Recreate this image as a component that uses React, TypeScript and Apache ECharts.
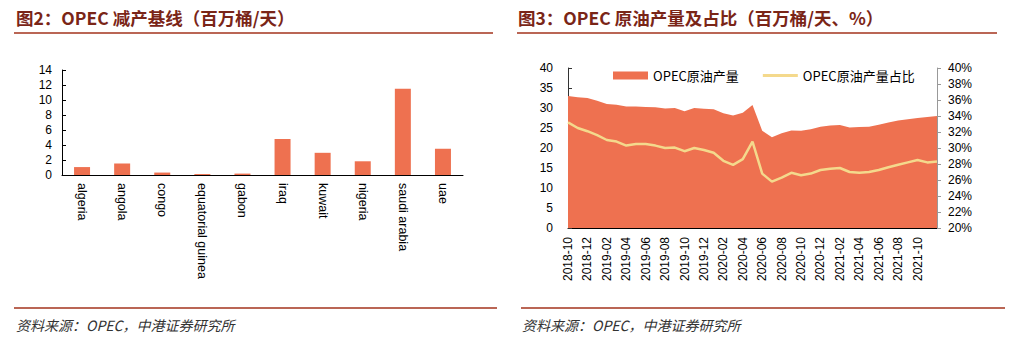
import React, { useEffect, useRef } from "react";
import * as echarts from "echarts";

// ---- Chart 2: OPEC baseline (mb/d)
const countries = [
  "algeria", "angola", "congo", "equatorial guinea", "gabon",
  "iraq", "kuwait", "nigeria", "saudi arabia", "uae",
];
const baseline = [1.057, 1.528, 0.325, 0.127, 0.187, 4.803, 2.959, 1.829, 11.5, 3.5];
const leftYTicks = [0, 14, 2]; // min, max, interval

// ---- Chart 3: OPEC crude production & share
const months = [
  "2018-10", "2018-11", "2018-12", "2019-01", "2019-02", "2019-03", "2019-04", "2019-05",
  "2019-06", "2019-07", "2019-08", "2019-09", "2019-10", "2019-11", "2019-12", "2020-01",
  "2020-02", "2020-03", "2020-04", "2020-05", "2020-06", "2020-07", "2020-08", "2020-09",
  "2020-10", "2020-11", "2020-12", "2021-01", "2021-02", "2021-03", "2021-04", "2021-05",
  "2021-06", "2021-07", "2021-08", "2021-09", "2021-10", "2021-11", "2021-12",
];
const production = [
  33.0, 32.7, 32.5, 31.8, 31.0, 30.8, 30.4, 30.4,
  30.25, 30.2, 29.9, 30.0, 29.2, 30.0, 29.8, 29.7,
  28.7, 28.1, 28.8, 30.75, 24.3, 22.7, 23.7, 24.4,
  24.3, 24.7, 25.3, 25.6, 25.75, 25.1, 25.25, 25.3,
  25.8, 26.4, 26.9, 27.2, 27.5, 27.75, 28.0,
];
const share = [
  33.2, 32.5, 32.1, 31.6, 31.0, 30.8, 30.3, 30.5,
  30.5, 30.3, 30.0, 30.05, 29.6, 30.0, 29.75, 29.4,
  28.4, 27.9, 28.6, 30.8, 26.8, 25.8, 26.3, 26.9,
  26.6, 26.8, 27.25, 27.4, 27.5, 27.0, 26.9, 27.0,
  27.25, 27.6, 27.9, 28.2, 28.5, 28.2, 28.3,
];
const prodAxis = [0, 40, 5];
const shareAxis = [20, 40, 2];

const seriesNames = ["OPEC原油产量", "OPEC原油产量占比"];
const titles = ["图2：OPEC 减产基线（百万桶/天）", "图3：OPEC 原油产量及占比（百万桶/天、%）"];
const sourceText = "资料来源：OPEC，中港证券研究所";

const ORANGE = "#EE7150";
const YELLOW = "#F4D98C";
const TITLE_COLOR = "#7A2517";
const RULE_COLOR = "#A3331C";
const FONT = 'Arial, "Liberation Sans", "Noto Sans CJK SC", sans-serif';
const CJK = '"Noto Sans CJK SC", Arial, sans-serif';

export default function App() {
  const ref = useRef<HTMLDivElement>(null);
  useEffect(() => {
    if (!ref.current) return;
    const chart = echarts.init(ref.current, null, { renderer: "svg" });
    const axisText = { color: "#000", fontSize: 12, fontFamily: FONT };
    chart.setOption({
      animation: false,
      textStyle: { fontFamily: FONT },
      grid: [
        { left: 62, top: 70, width: 401, height: 105, containLabel: false },
        { left: 568, top: 68, width: 369, height: 160, containLabel: false },
      ],
      legend: {
        left: 608,
        top: 64,
        itemWidth: 35,
        itemHeight: 8,
        itemGap: 24,
        symbolKeepAspect: true,
        textStyle: { color: "#000", fontSize: 13, fontFamily: CJK },
        data: [
          { name: seriesNames[0], icon: "rect" },
          { name: seriesNames[1], icon: "path://M0,0L35,0L35,3L0,3Z" },
        ],
      },
      xAxis: [
        {
          type: "category",
          gridIndex: 0,
          data: countries,
          boundaryGap: true,
          axisLine: { lineStyle: { color: "#000", width: 1 } },
          axisTick: { inside: true, length: 4, lineStyle: { color: "#000" } },
          axisLabel: { ...axisText, fontSize: 12.5, rotate: -90, margin: 8, interval: 0 },
        },
        {
          type: "category",
          gridIndex: 1,
          data: months,
          boundaryGap: false,
          axisLine: { lineStyle: { color: "#000", width: 1 } },
          axisTick: { inside: true, length: 4, interval: 1, lineStyle: { color: "#000" } },
          axisLabel: { ...axisText, rotate: 90, margin: 9, interval: 1, showMaxLabel: false },
        },
      ],
      yAxis: [
        {
          type: "value",
          gridIndex: 0,
          min: leftYTicks[0],
          max: leftYTicks[1],
          interval: leftYTicks[2],
          axisLine: { show: true, lineStyle: { color: "#000" } },
          axisTick: { show: true, inside: true, length: 4, lineStyle: { color: "#000" } },
          axisLabel: { ...axisText, margin: 10 },
          splitLine: { show: false },
        },
        {
          type: "value",
          gridIndex: 1,
          position: "left",
          min: prodAxis[0],
          max: prodAxis[1],
          interval: prodAxis[2],
          axisLine: { show: true, lineStyle: { color: "#333" } },
          axisTick: { show: true, inside: true, length: 4, lineStyle: { color: "#333" } },
          axisLabel: { ...axisText, margin: 15 },
          splitLine: { show: false },
        },
        {
          type: "value",
          gridIndex: 1,
          position: "right",
          min: shareAxis[0],
          max: shareAxis[1],
          interval: shareAxis[2],
          axisLine: { show: true, lineStyle: { color: "#999" } },
          axisTick: { show: true, inside: false, length: 4, lineStyle: { color: "#999" } },
          axisLabel: { ...axisText, margin: 11, formatter: "{value}%" },
          splitLine: { show: false },
        },
      ],
      series: [
        {
          type: "bar",
          xAxisIndex: 0,
          yAxisIndex: 0,
          data: baseline,
          barWidth: 16,
          itemStyle: { color: ORANGE },
        },
        {
          name: seriesNames[0],
          type: "line",
          xAxisIndex: 1,
          yAxisIndex: 1,
          data: production,
          symbol: "none",
          showSymbol: false,
          lineStyle: { width: 0, color: ORANGE },
          itemStyle: { color: ORANGE },
          areaStyle: { color: ORANGE, opacity: 1 },
        },
        {
          name: seriesNames[1],
          type: "line",
          xAxisIndex: 1,
          yAxisIndex: 2,
          data: share,
          symbol: "none",
          showSymbol: false,
          lineStyle: { width: 2.5, color: YELLOW },
          itemStyle: { color: YELLOW },
        },
      ],
      graphic: [
        {
          type: "text",
          left: 16,
          top: 9,
          style: { text: titles[0], fill: TITLE_COLOR, font: `bold 17.5px ${CJK}` },
        },
        {
          type: "text",
          left: 518,
          top: 9,
          style: { text: titles[1], fill: TITLE_COLOR, font: `bold 17.5px ${CJK}` },
        },
        { type: "line", shape: { x1: 14, y1: 33, x2: 493, y2: 33 }, style: { stroke: RULE_COLOR, lineWidth: 1.5 } },
        { type: "line", shape: { x1: 517, y1: 33, x2: 997, y2: 33 }, style: { stroke: RULE_COLOR, lineWidth: 1.5 } },
        { type: "line", shape: { x1: 14, y1: 308, x2: 497, y2: 308 }, style: { stroke: RULE_COLOR, lineWidth: 1.5 } },
        { type: "line", shape: { x1: 521, y1: 308, x2: 1005, y2: 308 }, style: { stroke: RULE_COLOR, lineWidth: 1.5 } },
        {
          type: "text",
          left: 16,
          top: 318,
          style: { text: sourceText, fill: "#333", font: `italic 14px ${CJK}` },
        },
        {
          type: "text",
          left: 522,
          top: 318,
          style: { text: sourceText, fill: "#333", font: `italic 14px ${CJK}` },
        },
      ],
    });
    return () => chart.dispose();
  }, []);
  return (
    <div
      ref={ref}
      style={{ position: "absolute", left: 0, top: 0, width: 1016, height: 356, background: "#fff" }}
    />
  );
}
